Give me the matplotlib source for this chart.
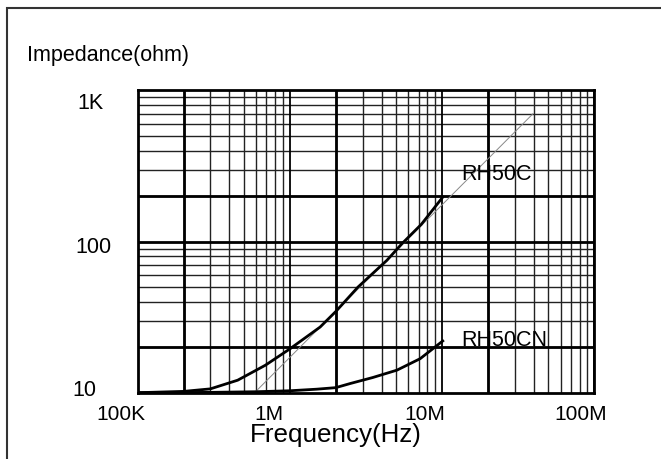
import matplotlib
matplotlib.use('Agg')
import matplotlib.pyplot as plt
import matplotlib.transforms as mtransforms
from matplotlib.patches import Rectangle

# RH50C impedance curve (Hz, ohm)
freq_rh50c = [1e5, 2e5, 3e5, 4.54e5, 6.9e5, 1e6, 1.58e6, 2.01e6, 2.8e6, 4.34e6, 5.47e6, 7.3e6, 1.01e7]
z_rh50c = [10.0, 10.2, 10.6, 12.1, 15.2, 19.5, 27.2, 34.6, 50.0, 75.2, 97.3, 130.0, 197.0]

# RH50CN impedance curve
freq_rh50cn = [1e5, 3e5, 6e5, 1e6, 1.5e6, 2e6, 2.49e6, 3.5e6, 5.05e6, 7.18e6, 1.01e7]
z_rh50cn = [10.0, 10.05, 10.15, 10.3, 10.55, 10.8, 11.5, 12.6, 14.1, 16.8, 22.0]

# thin inductive reference line
freq_ref = [5.86e5, 3.95e7]
z_ref = [10.0, 701.0]

x_ticks = [1e5, 1e6, 1e7, 1e8]
x_tick_labels = ['100K', '1M', '10M', '100M']
y_ticks = [10, 100, 1000]
y_tick_labels = ['10', '100', '1K']

x_thick = [2e5, 2e6, 2e7]
y_thick = [20, 100, 200]

W, H = 661, 459
fig = plt.figure(figsize=(W / 100, H / 100), dpi=100)
ax = fig.add_axes([137.7 / W, 1 - 392.7 / H, (594.3 - 137.7) / W, (392.7 - 90.5) / H])
ax.set_xscale('log')
ax.set_yscale('log')
ax.set_xlim(1e5, 1e8)
ax.set_ylim(10, 1000)

# grid
for dec in [1e5, 1e6, 1e7]:
    for k in range(2, 10):
        ax.axvline(dec * k, color='#222222', lw=1.0, zorder=1)
for dec in [10, 100]:
    for k in range(2, 10):
        ax.axhline(dec * k, color='#222222', lw=1.0, zorder=1)
for v in x_ticks:
    ax.axvline(v, color='black', lw=1.3, zorder=1)
for v in x_thick:
    ax.axvline(v, color='black', lw=2.0, zorder=1)
for v in y_thick:
    ax.axhline(v, color='black', lw=2.0, zorder=1)

ax.plot(freq_ref, z_ref, color='#888888', lw=0.7, zorder=2)
ax.plot(freq_rh50c, z_rh50c, color='black', lw=2.0, zorder=3)
ax.plot(freq_rh50cn, z_rh50cn, color='black', lw=2.0, zorder=3)

for s in ax.spines.values():
    s.set_linewidth(2.0)
    s.set_color('black')

fig.text(461 / W, 1 - 174 / H, 'RH50C', fontsize=15.5, family='Liberation Sans', va='center', ha='left', zorder=5)
fig.text(461 / W, 1 - 341 / H, 'RH50CN', fontsize=15.5, family='Liberation Sans', va='center', ha='left', zorder=5)

ax.set_xticks(x_ticks, x_tick_labels)
ax.set_yticks(y_ticks, y_tick_labels)
ax.minorticks_off()
ax.tick_params(length=0, pad=0)
for lab in ax.get_xticklabels():
    lab.set_family('Liberation Sans')
    lab.set_fontsize(15)
for lab in ax.get_yticklabels():
    lab.set_family('Liberation Sans')
    lab.set_fontsize(15.5)

x_dx = [-16.7, -21, -17.2, -13.3]
for lab, dx in zip(ax.get_xticklabels(), x_dx):
    lab.set_va('center')
    lab.set_transform(lab.get_transform() + mtransforms.ScaledTranslation(dx / 100, -22.3 / 100, fig.dpi_scale_trans))
y_dy = [2, -6, -13.5]
y_left = [72, 75, 77]
for lab, dy, xl in zip(ax.get_yticklabels(), y_dy, y_left):
    lab.set_ha('left')
    lab.set_va('center')
    lab.set_transform(lab.get_transform() + mtransforms.ScaledTranslation((xl - 137.7) / 100, dy / 100, fig.dpi_scale_trans))

fig.text(27.4 / W, 1 - 55 / H, 'Impedance(ohm)', fontsize=15.5, family='Liberation Sans', va='center', ha='left')
fig.text(336.3 / W, 1 - 435 / H, 'Frequency(Hz)', fontsize=18.7, family='Liberation Sans', va='center', ha='center')

fig.add_artist(Rectangle((7 / W, -0.05), 1.1, 1 - 8 / H + 0.05, transform=fig.transFigure,
                         fill=False, edgecolor='#333333', lw=1.5))

fig.savefig('out.png', dpi=100)
